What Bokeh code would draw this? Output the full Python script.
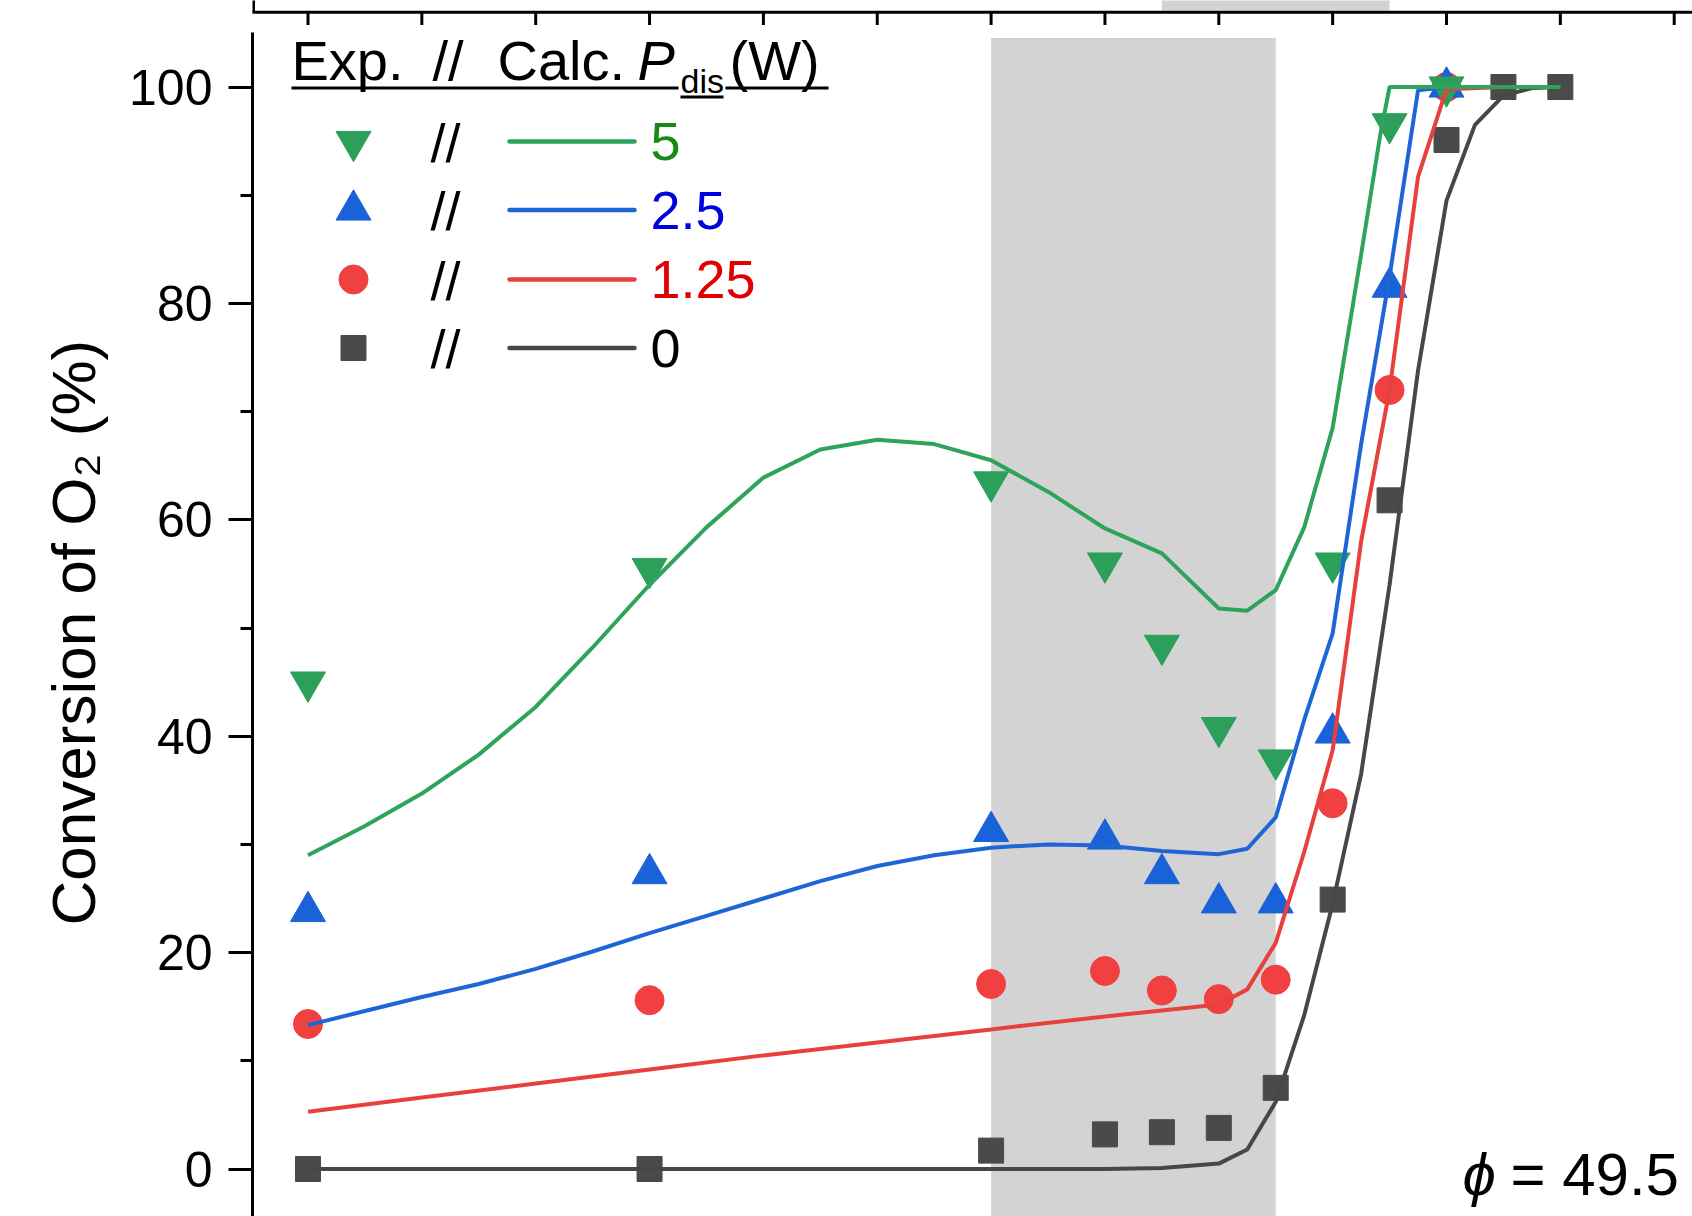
from bokeh.plotting import figure
from bokeh.models import Range1d, SingleIntervalTicker
from bokeh.core.properties import value
from bokeh.embed import file_html
from bokeh.resources import INLINE

# ---------------- data ----------------
# x positions (axis of the panel is not visible in the crop; position index units)
x_exp = [0, 3, 6, 7, 7.5, 8, 8.5, 9, 9.5, 10, 10.5, 11]

exp_p5 = [45.0, 55.5, 63.5, 56.0, 48.4, 40.8, 37.8, 56.0, 96.6, 100.0]
exp_p2_5 = [23.8, 27.3, 31.2, 30.5, 27.3, 24.6, 24.6, 40.3, 81.5, 100.0]
exp_p1_25 = [13.4, 15.6, 17.1, 18.3, 16.5, 15.7, 17.5, 33.8, 72.0, 100.0]
exp_p0 = [0.0, 0.0, 1.7, 3.2, 3.4, 3.8, 7.5, 24.9, 61.8, 95.1, 100.0, 100.0]

calc_x_p5 = [0, 0.5, 1, 1.5, 2, 2.5, 3, 3.5, 4, 4.5, 5, 5.5, 6, 6.5, 7, 7.5, 8,
             8.25, 8.5, 8.75, 9, 9.25, 9.42, 9.5, 10, 10.5, 11]
calc_p5 = [29.0, 31.7, 34.7, 38.3, 42.7, 48.2, 54.0, 59.3, 63.9, 66.5, 67.4, 67.0,
           65.5, 62.6, 59.2, 56.9, 51.8, 51.6, 53.5, 59.3, 68.5, 84.5, 95.7,
           100.0, 100.0, 100.0, 100.0]

calc_x_p2_5 = [0, 0.5, 1, 1.5, 2, 2.5, 3, 3.5, 4, 4.5, 5, 5.5, 6, 6.5, 7, 7.5, 8,
               8.25, 8.5, 8.75, 9, 9.25, 9.5, 9.75, 10, 10.5, 11]
calc_p2_5 = [13.3, 14.6, 15.9, 17.1, 18.5, 20.1, 21.8, 23.4, 25.0, 26.6, 28.0,
             29.0, 29.7, 30.0, 29.9, 29.4, 29.1, 29.6, 32.5, 41.5, 49.5, 67.0,
             82.5, 99.7, 100.0, 100.0, 100.0]

calc_x_p1_25 = [0, 1, 2, 3, 4, 5, 6, 7, 8, 8.25, 8.5, 8.75, 9, 9.25, 9.5, 9.75,
                10, 10.5, 11]
calc_p1_25 = [5.3, 6.6, 7.9, 9.2, 10.5, 11.7, 12.9, 14.1, 15.2, 16.6, 20.9, 29.3,
              38.7, 58.0, 72.0, 91.7, 99.8, 100.0, 100.0]

calc_x_p0 = [0, 3, 6, 7, 7.5, 8, 8.25, 8.5, 8.75, 9, 9.25, 9.5, 9.75, 10, 10.25,
             10.5, 10.75, 11]
calc_p0 = [0.0, 0.0, 0.0, 0.0, 0.1, 0.5, 1.8, 6.2, 14.2, 24.5, 36.5, 54.0, 73.8,
           89.5, 96.5, 99.2, 99.9, 100.0]

power_labels = ["5", "2.5", "1.25", "0"]
y_tick_interval = 20
shade_x = [6.0, 8.5]            # grey region of this panel
upper_shade_x = [7.5, 9.5]      # grey region of the panel above (cropped)
upper_ticks = list(range(0, 13))
phi_text = "= 49.5"

# ---------------- styling ----------------
FONT = "Liberation Sans"
C_GREEN, C_BLUE, C_RED, C_GRAY = "#2CA05A", "#1A62D8", "#F04040", "#4A4A4A"
L_GREEN, L_BLUE, L_RED, L_GRAY = "#2EA35C", "#1E66D6", "#E8403C", "#474747"
T_GREEN, T_BLUE, T_RED, T_BLACK = "#158A15", "#0000DC", "#E00000", "#000000"
SHADE = "#D3D3D3"

W, H = 1692, 1216
X0_PX, X_SCALE = 307.5, 113.85
Y0_PX, Y_SCALE = 1168.5, 10.82
LEFT = 252


def xd(px):
    return (px - X0_PX) / X_SCALE


def yd(py):
    return (Y0_PX - py) / Y_SCALE


p = figure(width=W, height=H, title=None,
           x_range=Range1d(xd(LEFT), xd(W)), y_range=Range1d(yd(H), yd(0)),
           x_axis_location=None, y_axis_location="left",
           toolbar_location=None, output_backend="svg",
           min_border_left=LEFT, min_border_right=0,
           min_border_top=0, min_border_bottom=0)
p.outline_line_color = None
p.grid.visible = False
p.background_fill_color = "white"
p.border_fill_color = "white"

ax = p.yaxis[0]
ax.ticker = SingleIntervalTicker(interval=y_tick_interval, num_minor_ticks=2)
ax.bounds = (-10, 105)
ax.axis_line_width = 3
ax.axis_line_color = "black"
ax.major_tick_line_width = 3
ax.minor_tick_line_width = 3
ax.major_tick_in = 0
ax.major_tick_out = 24
ax.minor_tick_in = 0
ax.minor_tick_out = 12
ax.major_label_text_font = FONT
ax.major_label_text_font_size = "50px"
ax.major_label_text_color = "black"
ax.major_label_standoff = 16
# trailing fixed-width spaces shift the centred label down like the original
ax.axis_label = "Conversion of O\u2082 (%)\u2002\u00a0"
ax.axis_label_text_font = FONT
ax.axis_label_text_font_size = "62px"
ax.axis_label_text_font_style = "normal"
ax.axis_label_text_color = "black"
ax.axis_label_standoff = 18

# shaded regions
p.quad(left=[shade_x[0]], right=[shade_x[1]], bottom=[yd(H) - 1], top=[yd(37.5)],
       fill_color=SHADE, line_color=None)
p.quad(left=[upper_shade_x[0]], right=[upper_shade_x[1]], bottom=[yd(10)],
       top=[yd(-2)], fill_color=SHADE, line_color=None)

# bottom axis of the panel above (cropped)
p.segment(x0=[xd(LEFT - 2)], y0=[yd(11.7)], x1=[xd(W + 2)], y1=[yd(11.7)],
          line_color="black", line_width=3)
p.segment(x0=[xd(LEFT + 1)], y0=[yd(-2)], x1=[xd(LEFT + 1)], y1=[yd(11.7)],
          line_color="black", line_width=3)
p.segment(x0=upper_ticks, y0=[yd(11.7)] * len(upper_ticks),
          x1=upper_ticks, y1=[yd(24.5)] * len(upper_ticks),
          line_color="black", line_width=3)

# experimental points
n0, n = len(exp_p0), len(exp_p5)
p.scatter(x_exp[:n0], exp_p0, marker="square", size=25, color=C_GRAY)
p.scatter(x_exp[:n], exp_p1_25, marker="circle", size=29, color=C_RED)
p.scatter(x_exp[:n], exp_p2_5, marker="triangle", size=35, color=C_BLUE)
p.scatter(x_exp[:n], exp_p5, marker="inverted_triangle", size=35, color=C_GREEN)

# calculated curves
p.line(calc_x_p0, calc_p0, line_color=L_GRAY, line_width=4)
p.line(calc_x_p1_25, calc_p1_25, line_color=L_RED, line_width=4)
p.line(calc_x_p2_5, calc_p2_5, line_color=L_BLUE, line_width=4)
p.line(calc_x_p5, calc_p5, line_color=L_GREEN, line_width=4)

# ---------------- legend (hand-built, as in the original) ----------------
def txt(xpx, ypx, s, size, color="black", style="normal"):
    # ypx is the vertical centre of the capitals
    p.text(x=[xd(xpx)], y=[yd(ypx)], text=[s], text_font=value(FONT),
           text_font_size=size, text_color=color, text_font_style=style,
           text_align="left", text_baseline="middle")


HC = 60
txt(291, HC, "Exp.", "56px")
txt(432, HC, "//", "56px")
txt(497, HC, "Calc.", "56px")
txt(637, HC, "P", "56px", style="italic")
txt(680, 80, "dis", "34px")
txt(729, HC, "(W)", "56px")
p.segment(x0=[xd(291), xd(725)], y0=[yd(87.5)] * 2, x1=[xd(678), xd(828)],
          y1=[yd(87.5)] * 2, line_color="black", line_width=3)
p.segment(x0=[xd(680)], y0=[yd(96.5)], x1=[xd(723)], y1=[yd(96.5)],
          line_color="black", line_width=3)

row_center = [141, 209.5, 279, 347.5]
markers = ["inverted_triangle", "triangle", "circle", "square"]
msizes = [35, 35, 29, 25]
mcolors = [C_GREEN, C_BLUE, C_RED, C_GRAY]
lcolors = [L_GREEN, L_BLUE, L_RED, L_GRAY]
tcolors = [T_GREEN, T_BLUE, T_RED, T_BLACK]
for i in range(4):
    p.scatter([xd(353)], [yd(row_center[i])], marker=markers[i], size=msizes[i],
              color=mcolors[i])
    txt(430, row_center[i] + 1, "//", "54px")
    p.segment(x0=[xd(509)], y0=[yd(row_center[i])], x1=[xd(634)],
              y1=[yd(row_center[i])], line_color=lcolors[i], line_width=4.5,
              line_cap="round")
    txt(650, row_center[i], power_labels[i], "54px", color=tcolors[i])

# phi annotation
txt(1462, 1174, "\u03d5", "60px", style="italic")
txt(1510, 1174, phi_text, "60px")

open("out.html", "w").write(file_html(p, INLINE))
